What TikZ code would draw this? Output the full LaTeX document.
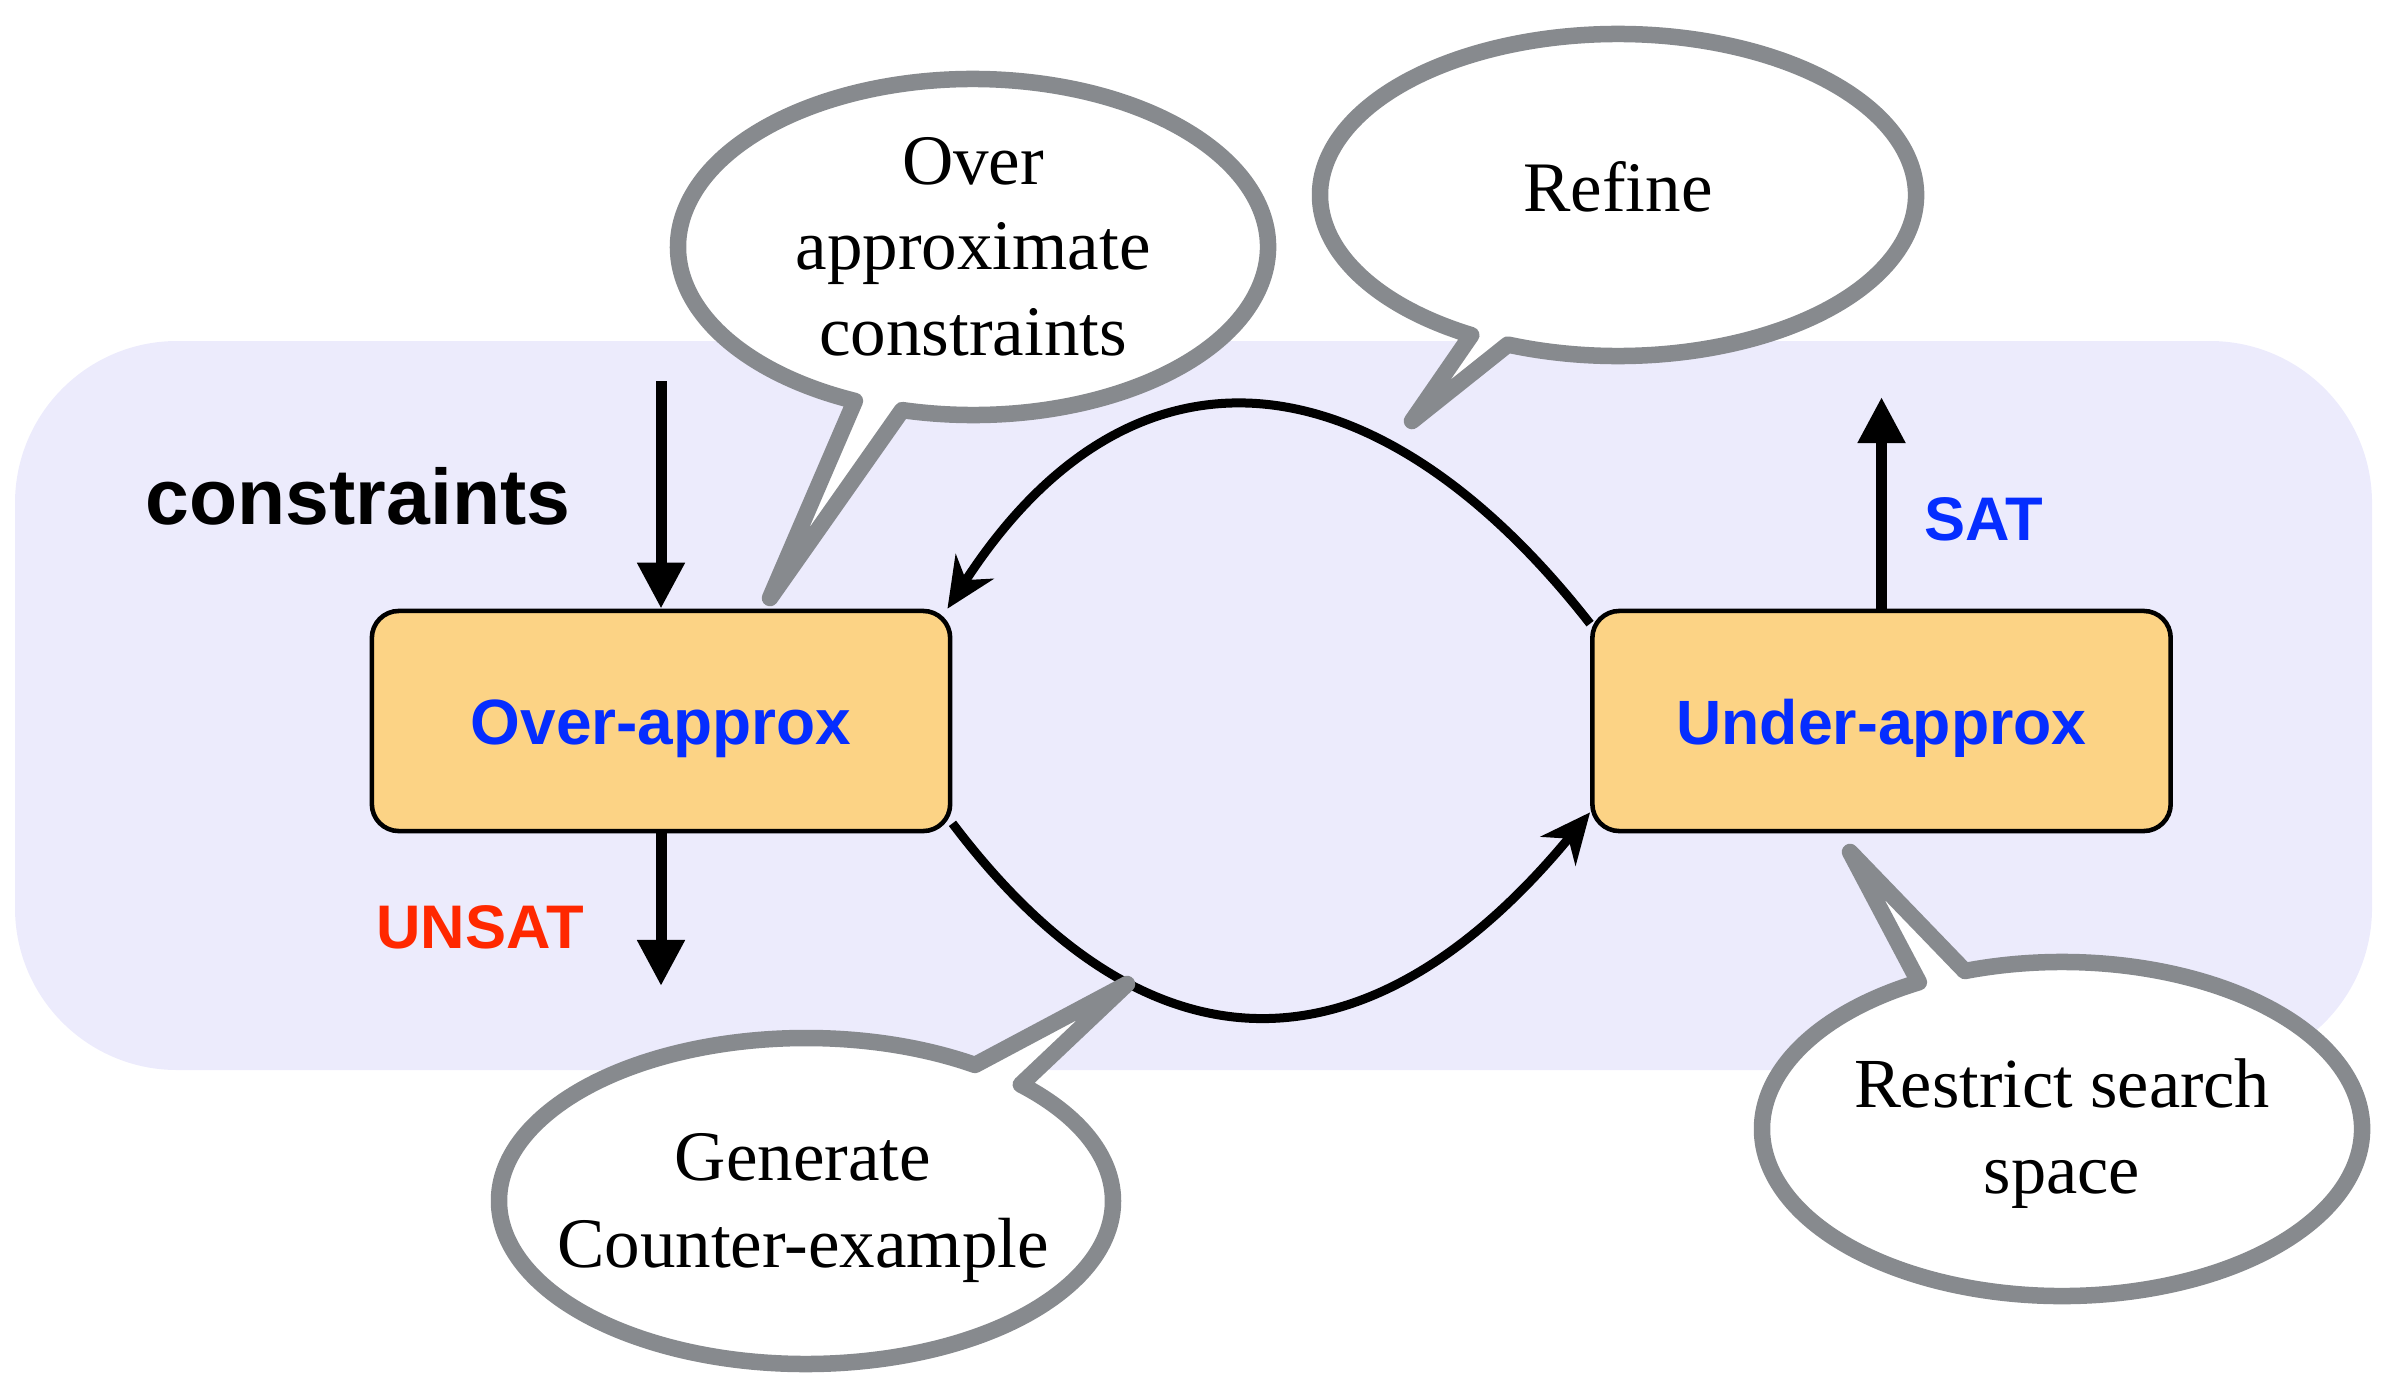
\documentclass[tikz,border=0pt]{standalone}
\usepackage{fontspec}
\setmainfont{Liberation Serif}
\newfontfamily\hv{Liberation Sans}
\usetikzlibrary{arrows.meta}
\definecolor{bgc}{RGB}{236,235,252}
\definecolor{boxc}{RGB}{252,211,133}
\definecolor{bubc}{RGB}{135,138,142}
\definecolor{blu}{RGB}{5,45,255}
\definecolor{redc}{RGB}{255,40,0}
\tikzset{
  procbox/.style={draw=black, line width=1.3pt, fill=boxc, rounded corners=0.27cm,
    minimum width=5.78cm, minimum height=2.2cm, inner sep=0pt, text=blu,
    font=\hv\bfseries\fontsize{18.2}{21}\selectfont, text height=0.46cm, text depth=0pt},
  lbl/.style={inner sep=0pt, anchor=base, font=\hv\bfseries\fontsize{17.5}{21}\selectfont},
  sarrow/.style={line width=0.11cm, -{Triangle[length=0.46cm, width=0.45cm]}},
  carrow/.style={line width=0.09cm, -{Stealth[length=0.5cm, width=0.45cm, inset=0.16cm]}},
  bubble/.style={draw=bubc, fill=white, line width=0.165cm, line join=round},
  bubtext/.style={inner sep=0pt, anchor=base, align=center},
}
\begin{document}
\begin{tikzpicture}[x=0.01cm, y=-0.01cm]
\useasboundingbox (0,0) rectangle (2389,1379);
% background panel
\fill[bgc, rounded corners=1.62cm] (15,341) rectangle (2372,1070);

% process boxes
\node[procbox] (over) at (661,721) {Over-approx};
\node[procbox, font=\hv\bfseries\fontsize{17.8}{21}\selectfont] (under) at (1881.5,721) {Under-approx};

% labels
\node[lbl, font=\hv\bfseries\fontsize{22.4}{26}\selectfont] (cons) at (358,524) {constraints};
\node[lbl, text=redc] (unsat) at (480,948) {UNSAT};
\node[lbl, text=blu] (sat) at (1984,540) {SAT};

% straight arrows
\coordinate (cin) at (661,381);
\coordinate (unsatend) at (661,986);
\coordinate (satend) at (1881.5,397);
\draw[sarrow] (cin) -- (over.north);
\draw[sarrow] (over.south) -- (unsatend);
\draw[sarrow] (under.north) -- (satend);

% curved arrows
\draw[carrow] ([yshift=-0.15cm]under.north west) .. controls (1380,355) and (1134,320) .. ([xshift=-0.05cm]over.north east);
\draw[carrow] ([yshift=0.1cm]over.south east) .. controls (1154,1090) and (1375,1073) .. ([yshift=0.21cm]under.south west);

% speech bubbles
\draw[bubble] (973,247) ++(103.9:295 and 168)
  arc[start angle=103.9, end angle=-246.4, x radius=295, y radius=168] -- (770,598) -- cycle;
\draw[bubble] (1618,195) ++(111.7:298 and 161)
  arc[start angle=111.7, end angle=-240.5, x radius=298, y radius=161] -- (1412,421) -- cycle;
\draw[bubble] (806,1201) ++(-56.6:307 and 163)
  arc[start angle=-56.6, end angle=-405.6, x radius=307, y radius=163] -- (1127,984) -- cycle;
\draw[bubble] (2062,1129) ++(-108.9:300 and 167)
  arc[start angle=-108.9, end angle=241.5, x radius=300, y radius=167] -- (1850,852) -- cycle;

% bubble texts (anchor = baseline of last line)
\node[bubtext, font=\fontsize{20.2}{24.2}\selectfont] (t1) at (973,355) {Over\\approximate\\constraints};
\node[bubtext, font=\fontsize{20.2}{24.2}\selectfont] (t2) at (1618,212) {Refine};
\node[bubtext, font=\fontsize{20.2}{24.7}\selectfont] (t3) at (803,1267) {Generate\\Counter-example};
\node[bubtext, font=\fontsize{20}{24.2}\selectfont] (t4) at (2062,1193) {Restrict search\\space};
\end{tikzpicture}
\end{document}
